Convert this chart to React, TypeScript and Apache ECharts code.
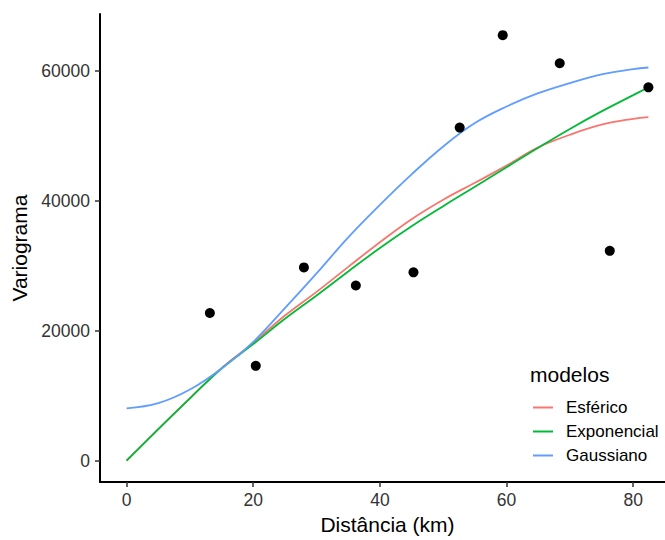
import React, { useEffect, useRef } from "react";
import * as echarts from "echarts";

// Experimental variogram points
const distancias = [13.15, 20.4, 28.0, 36.2, 45.3, 52.6, 59.4, 68.4, 76.3, 82.4];
const semivariancias = [22750, 14610, 29770, 26980, 29010, 51300, 65540, 61220, 32320, 57510];

// Fitted model curves
const curvaDist = [0, 5, 10, 15, 20, 25, 30, 35, 40, 45, 50, 55, 60, 65, 70, 75, 80, 82.4];
const esferico = [0, 4850, 9600, 14250, 18150, 22350, 26000, 29850, 33650, 37200, 40200, 42800, 45450, 48250, 50200, 51750, 52660, 52930];
const exponencial = [0, 4850, 9600, 14200, 17950, 21850, 25450, 29150, 32750, 36100, 39200, 42200, 45200, 48200, 51100, 53800, 56300, 57510];
const gaussiano = [8050, 8850, 10950, 14200, 18300, 23500, 28850, 34400, 39400, 44100, 48400, 52000, 54550, 56600, 58150, 59500, 60300, 60560];

const modelos = ["Esférico", "Exponencial", "Gaussiano"];
const cores = ["#F8766D", "#00BA38", "#619CFF"];
const xTicks = [0, 20, 40, 60, 80];
const yTicks = [0, 20000, 40000, 60000];

const FONT = "'Liberation Sans', Arial, sans-serif";

export default function App() {
  const ref = useRef<HTMLDivElement>(null);
  useEffect(() => {
    if (!ref.current) return;
    document.documentElement.style.overflow = "hidden";
    document.body.style.overflow = "hidden";
    const chart = echarts.init(ref.current, undefined, { renderer: "svg" });
    const curves = [esferico, exponencial, gaussiano];
    chart.setOption({
      animation: false,
      backgroundColor: "#ffffff",
      textStyle: { fontFamily: FONT },
      grid: { left: 100, right: 0, top: 14, bottom: 52, containLabel: false },
      title: {
        text: "modelos",
        left: 530,
        top: 364,
        padding: 0,
        textStyle: { fontFamily: FONT, fontSize: 21, fontWeight: "normal", color: "#000" },
      },
      legend: {
        data: modelos.map((m) => ({ name: m, icon: "rect" })),
        orient: "vertical",
        left: 533,
        top: 399,
        padding: 0,
        itemWidth: 20,
        itemHeight: 2,
        itemGap: 7,
        textStyle: { fontFamily: FONT, fontSize: 17, color: "#000", lineHeight: 17, padding: [0, 0, 0, 8] },
      },
      xAxis: {
        type: "value",
        min: -4.2,
        max: 86.6,
        name: "Distância (km)",
        nameLocation: "middle",
        nameGap: 27,
        nameTextStyle: { fontFamily: FONT, fontSize: 21, color: "#000" },
        axisLine: { onZero: false, lineStyle: { color: "#000", width: 2 } },
        axisTick: { customValues: xTicks, length: 5, lineStyle: { color: "#333", width: 1.5 } },
        axisLabel: { customValues: xTicks, margin: 9, fontFamily: FONT, fontSize: 17.5, color: "#333" },
        splitLine: { show: false },
      },
      yAxis: {
        type: "value",
        min: -3300,
        max: 68800,
        name: "Variograma",
        nameLocation: "middle",
        nameGap: 70,
        nameTextStyle: { fontFamily: FONT, fontSize: 21, color: "#000" },
        axisLine: { onZero: false, lineStyle: { color: "#000", width: 2 } },
        axisTick: { customValues: yTicks, length: 5, lineStyle: { color: "#333", width: 1.5 } },
        axisLabel: {
          customValues: yTicks,
          margin: 10,
          fontFamily: FONT,
          fontSize: 17.5,
          color: "#333",
          formatter: (v: number) => String(v),
        },
        splitLine: { show: false },
      },
      series: [
        ...modelos.map((m, i) => ({
          name: m,
          type: "line",
          data: curvaDist.map((d, j) => [d, curves[i][j]]),
          smooth: 0.4,
          showSymbol: false,
          symbol: "none",
          itemStyle: { color: cores[i] },
          lineStyle: { color: cores[i], width: 1.8 },
          z: 2,
        })),
        {
          name: "pontos",
          type: "scatter",
          data: distancias.map((d, i) => [d, semivariancias[i]]),
          symbolSize: 10,
          itemStyle: { color: "#000", opacity: 1 },
          z: 3,
        },
      ],
    });
    return () => chart.dispose();
  }, []);
  return (
    <div
      ref={ref}
      style={{ position: "fixed", left: 0, top: 0, width: 675, height: 540, background: "#fff" }}
    />
  );
}
